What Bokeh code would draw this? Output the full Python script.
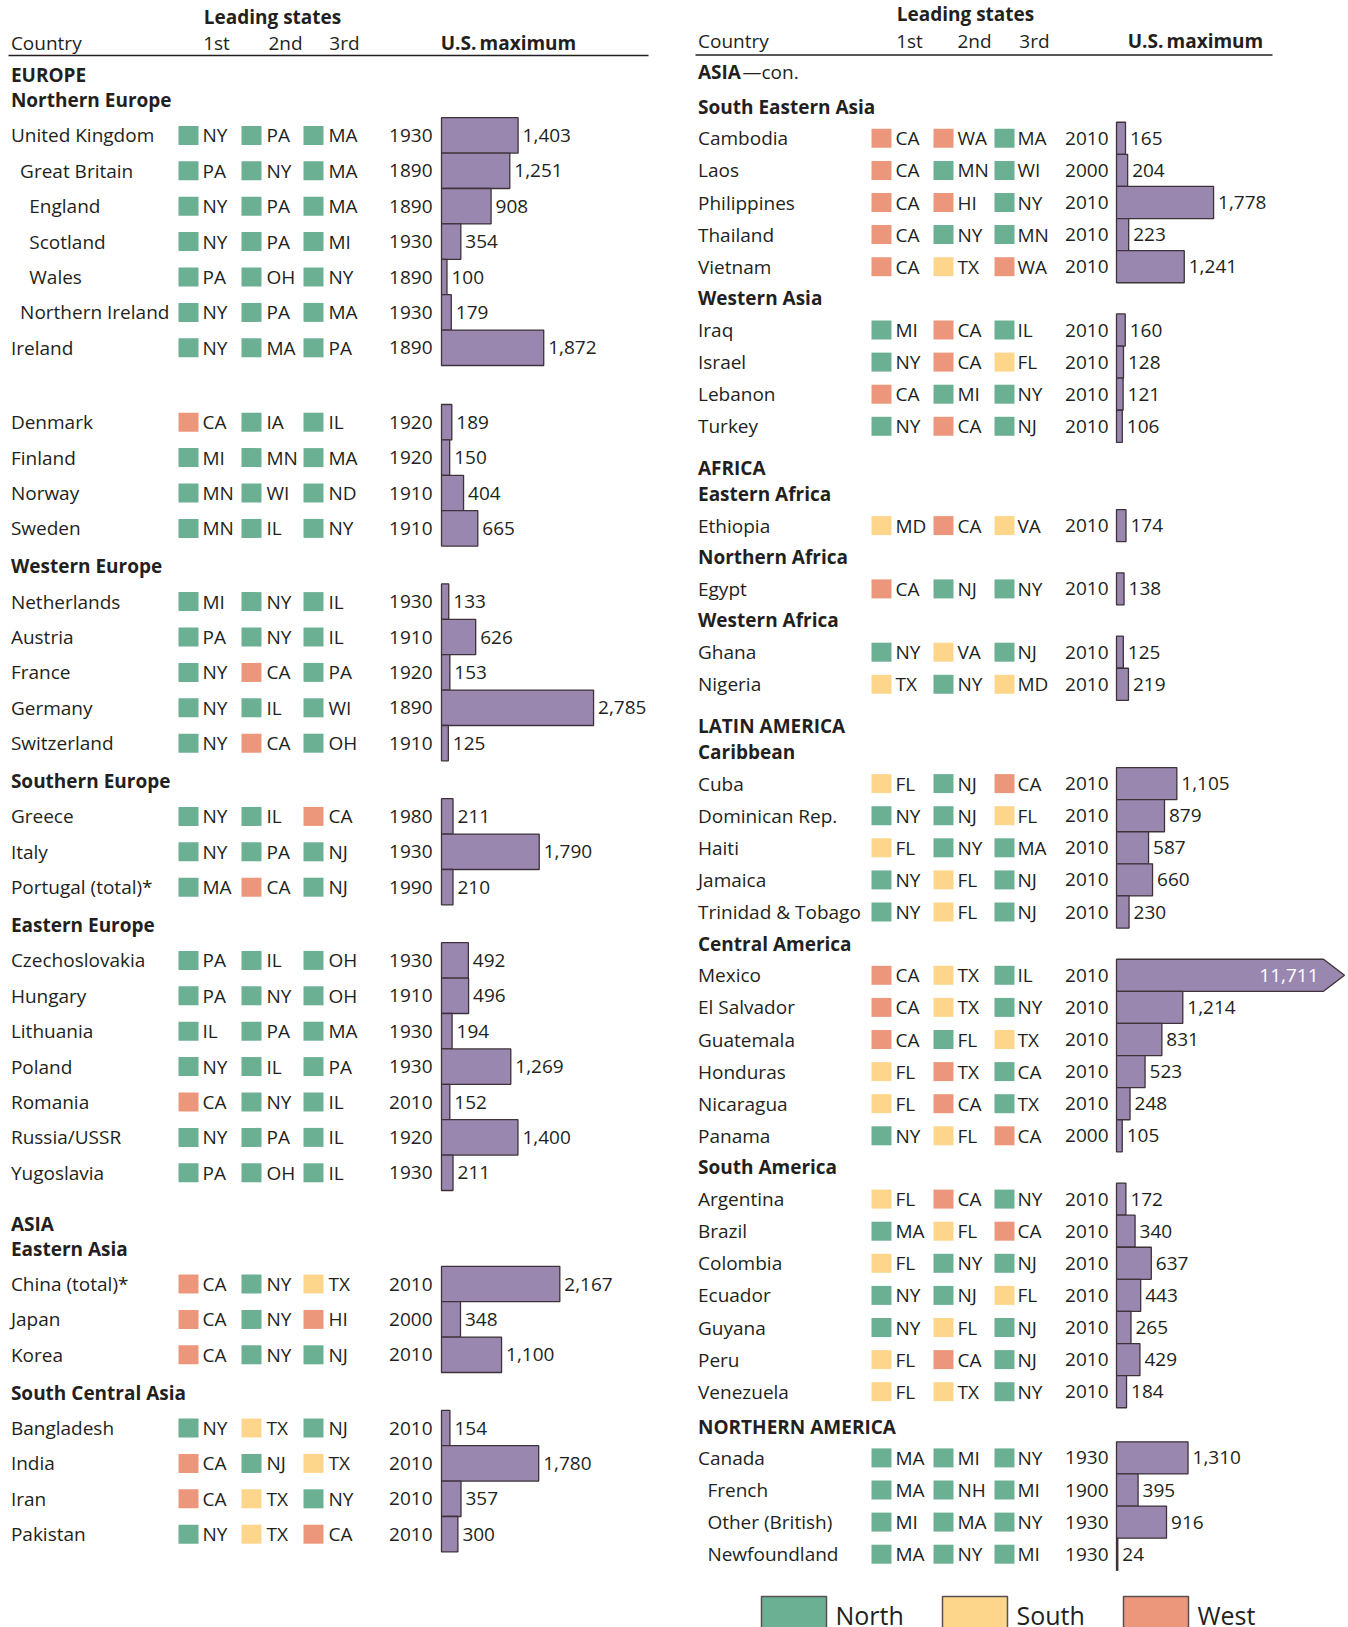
from bokeh.plotting import figure
from bokeh.models import Range1d
from bokeh.core.properties import value
from bokeh.embed import file_html
from bokeh.resources import INLINE

# ------------------------------------------------------------------ DATA
# Left column
left_countries = ["United Kingdom", "Great Britain", "England", "Scotland", "Wales",
                  "Northern Ireland", "Ireland",
                  "Denmark", "Finland", "Norway", "Sweden",
                  "Netherlands", "Austria", "France", "Germany", "Switzerland",
                  "Greece", "Italy", "Portugal (total)*",
                  "Czechoslovakia", "Hungary", "Lithuania", "Poland", "Romania",
                  "Russia/USSR", "Yugoslavia",
                  "China (total)*", "Japan", "Korea",
                  "Bangladesh", "India", "Iran", "Pakistan"]
left_level = [0, 1, 2, 2, 2, 1, 0,
              0, 0, 0, 0,
              0, 0, 0, 0, 0,
              0, 0, 0,
              0, 0, 0, 0, 0, 0, 0,
              0, 0, 0,
              0, 0, 0, 0]
left_states = [["NY", "PA", "MA"], ["PA", "NY", "MA"], ["NY", "PA", "MA"], ["NY", "PA", "MI"],
               ["PA", "OH", "NY"], ["NY", "PA", "MA"], ["NY", "MA", "PA"],
               ["CA", "IA", "IL"], ["MI", "MN", "MA"], ["MN", "WI", "ND"], ["MN", "IL", "NY"],
               ["MI", "NY", "IL"], ["PA", "NY", "IL"], ["NY", "CA", "PA"], ["NY", "IL", "WI"],
               ["NY", "CA", "OH"],
               ["NY", "IL", "CA"], ["NY", "PA", "NJ"], ["MA", "CA", "NJ"],
               ["PA", "IL", "OH"], ["PA", "NY", "OH"], ["IL", "PA", "MA"], ["NY", "IL", "PA"],
               ["CA", "NY", "IL"], ["NY", "PA", "IL"], ["PA", "OH", "IL"],
               ["CA", "NY", "TX"], ["CA", "NY", "HI"], ["CA", "NY", "NJ"],
               ["NY", "TX", "NJ"], ["CA", "NJ", "TX"], ["CA", "TX", "NY"], ["NY", "TX", "CA"]]
left_state_regions = [["N", "N", "N"], ["N", "N", "N"], ["N", "N", "N"], ["N", "N", "N"],
                      ["N", "N", "N"], ["N", "N", "N"], ["N", "N", "N"],
                      ["W", "N", "N"], ["N", "N", "N"], ["N", "N", "N"], ["N", "N", "N"],
                      ["N", "N", "N"], ["N", "N", "N"], ["N", "W", "N"], ["N", "N", "N"],
                      ["N", "W", "N"],
                      ["N", "N", "W"], ["N", "N", "N"], ["N", "W", "N"],
                      ["N", "N", "N"], ["N", "N", "N"], ["N", "N", "N"], ["N", "N", "N"],
                      ["W", "N", "N"], ["N", "N", "N"], ["N", "N", "N"],
                      ["W", "N", "S"], ["W", "N", "W"], ["W", "N", "N"],
                      ["N", "S", "N"], ["W", "N", "S"], ["W", "S", "N"], ["N", "S", "W"]]
left_years = [1930, 1890, 1890, 1930, 1890, 1930, 1890,
              1920, 1920, 1910, 1910,
              1930, 1910, 1920, 1890, 1910,
              1980, 1930, 1990,
              1930, 1910, 1930, 1930, 2010, 1920, 1930,
              2010, 2000, 2010,
              2010, 2010, 2010, 2010]
left_values = [1403, 1251, 908, 354, 100, 179, 1872,
               189, 150, 404, 665,
               133, 626, 153, 2785, 125,
               211, 1790, 210,
               492, 496, 194, 1269, 152, 1400, 211,
               2167, 348, 1100,
               154, 1780, 357, 300]
left_outline = [("R", "EUROPE"), ("S", "Northern Europe"), ("C", 7), ("G", ""), ("C", 4),
                ("S", "Western Europe"), ("C", 5), ("S", "Southern Europe"), ("C", 3),
                ("S", "Eastern Europe"), ("C", 7), ("G", ""), ("R", "ASIA"),
                ("S", "Eastern Asia"), ("C", 3), ("S", "South Central Asia"), ("C", 4)]

# Right column
right_countries = ["Cambodia", "Laos", "Philippines", "Thailand", "Vietnam",
                   "Iraq", "Israel", "Lebanon", "Turkey",
                   "Ethiopia", "Egypt", "Ghana", "Nigeria",
                   "Cuba", "Dominican Rep.", "Haiti", "Jamaica", "Trinidad & Tobago",
                   "Mexico", "El Salvador", "Guatemala", "Honduras", "Nicaragua", "Panama",
                   "Argentina", "Brazil", "Colombia", "Ecuador", "Guyana", "Peru", "Venezuela",
                   "Canada", "French", "Other (British)", "Newfoundland"]
right_level = [0] * 31 + [0, 1, 1, 1]
right_states = [["CA", "WA", "MA"], ["CA", "MN", "WI"], ["CA", "HI", "NY"], ["CA", "NY", "MN"],
                ["CA", "TX", "WA"],
                ["MI", "CA", "IL"], ["NY", "CA", "FL"], ["CA", "MI", "NY"], ["NY", "CA", "NJ"],
                ["MD", "CA", "VA"], ["CA", "NJ", "NY"], ["NY", "VA", "NJ"], ["TX", "NY", "MD"],
                ["FL", "NJ", "CA"], ["NY", "NJ", "FL"], ["FL", "NY", "MA"], ["NY", "FL", "NJ"],
                ["NY", "FL", "NJ"],
                ["CA", "TX", "IL"], ["CA", "TX", "NY"], ["CA", "FL", "TX"], ["FL", "TX", "CA"],
                ["FL", "CA", "TX"], ["NY", "FL", "CA"],
                ["FL", "CA", "NY"], ["MA", "FL", "CA"], ["FL", "NY", "NJ"], ["NY", "NJ", "FL"],
                ["NY", "FL", "NJ"], ["FL", "CA", "NJ"], ["FL", "TX", "NY"],
                ["MA", "MI", "NY"], ["MA", "NH", "MI"], ["MI", "MA", "NY"], ["MA", "NY", "MI"]]
right_state_regions = [["W", "W", "N"], ["W", "N", "N"], ["W", "W", "N"], ["W", "N", "N"],
                       ["W", "S", "W"],
                       ["N", "W", "N"], ["N", "W", "S"], ["W", "N", "N"], ["N", "W", "N"],
                       ["S", "W", "S"], ["W", "N", "N"], ["N", "S", "N"], ["S", "N", "S"],
                       ["S", "N", "W"], ["N", "N", "S"], ["S", "N", "N"], ["N", "S", "N"],
                       ["N", "S", "N"],
                       ["W", "S", "N"], ["W", "S", "N"], ["W", "N", "S"], ["S", "W", "N"],
                       ["S", "W", "N"], ["N", "S", "W"],
                       ["S", "W", "N"], ["N", "S", "W"], ["S", "N", "N"], ["N", "N", "S"],
                       ["N", "S", "N"], ["S", "W", "N"], ["S", "S", "N"],
                       ["N", "N", "N"], ["N", "N", "N"], ["N", "N", "N"], ["N", "N", "N"]]
right_years = [2010, 2000, 2010, 2010, 2010,
               2010, 2010, 2010, 2010,
               2010, 2010, 2010, 2010,
               2010, 2010, 2010, 2010, 2010,
               2010, 2010, 2010, 2010, 2010, 2000,
               2010, 2010, 2010, 2010, 2010, 2010, 2010,
               1930, 1900, 1930, 1930]
right_values = [165, 204, 1778, 223, 1241,
                160, 128, 121, 106,
                174, 138, 125, 219,
                1105, 879, 587, 660, 230,
                11711, 1214, 831, 523, 248, 105,
                172, 340, 637, 443, 265, 429, 184,
                1310, 395, 916, 24]
right_outline = [("RC", "ASIA"), ("S", "South Eastern Asia"), ("C", 5), ("S", "Western Asia"), ("C", 4),
                 ("R", "AFRICA"), ("S", "Eastern Africa"), ("C", 1), ("S", "Northern Africa"), ("C", 1),
                 ("S", "Western Africa"), ("C", 2),
                 ("R", "LATIN AMERICA"), ("S", "Caribbean"), ("C", 5), ("S", "Central America"), ("C", 6),
                 ("S", "South America"), ("C", 7), ("R1", "NORTHERN AMERICA"), ("C", 4)]

header_cols = ["1st", "2nd", "3rd"]
legend_keys = ["N", "S", "W"]
legend_labels = ["North", "South", "West"]

# ------------------------------------------------------------------ STYLE / LAYOUT
TXT = "#231f20"
FONT = "Open Sans"
FS = "19px"
REGION_COLORS = {"N": "#6cb094", "S": "#fdd68c", "W": "#ec977c"}
BAR_FILL = "#9a87b0"
BAR_LINE = "#3d3339"
PX_PER_UNIT = 0.0546
CAP_PX = 207
ARROW_PX = 21

W, H = 1348, 1627
p = figure(width=W, height=H, output_backend="svg", toolbar_location=None,
           x_range=Range1d(0, W), y_range=Range1d(H, 0),
           min_border=0, outline_line_color=None)
p.axis.visible = False
p.grid.visible = False
p.background_fill_color = "white"


def txt(x, y, t, size=FS, bold=False, align="left", color=TXT, baseline="middle"):
    p.text(x=x, y=y, text=t, text_font=value(FONT), text_font_size=value(size),
           text_font_style="bold" if bold else "normal", text_align=align,
           text_baseline=baseline, text_color=color)


def layout(outline, steps, y0):
    rows, heads = [], []
    prev, y = None, y0
    for kind, arg in outline:
        n = arg if kind == "C" else 1
        for _ in range(n):
            if prev is not None:
                y += steps[(prev, kind)]
            if kind == "C":
                rows.append(y)
            elif kind != "G":
                heads.append((kind, arg, y))
            prev = kind
    return rows, heads


def draw_column(countries, levels, states, sregions, years, values, outline, steps, y0, c):
    rows, heads = layout(outline, steps, y0)
    # headers
    for kind, label, y in heads:
        txt([c["cx"]], [y], [label], bold=True)
        if kind == "RC":
            txt([c["con_x"]], [y], ["\u2014con."])
    # country names
    txt([c["cx"] + lv * c["indent"] for lv in levels], rows, countries)
    # swatches + state codes
    for j in range(3):
        p.quad(left=[c["sw"][j]] * len(rows), right=[c["sw"][j] + 20] * len(rows),
               top=[y - 9.5 for y in rows], bottom=[y + 9.5 for y in rows],
               fill_color=[REGION_COLORS[r[j]] for r in sregions], line_color=None)
        txt([c["st"][j]] * len(rows), rows, [s[j] for s in states])
    # years
    txt([c["year_r"]] * len(rows), rows, [str(yv) for yv in years], align="right")
    # bars
    h = c["row_h"]
    x0 = c["bar0"]
    norm_l, norm_r, norm_y, norm_v = [], [], [], []
    for y, v in zip(rows, values):
        L = v * PX_PER_UNIT
        if L <= CAP_PX:
            norm_l.append(x0); norm_r.append(x0 + L); norm_y.append(y); norm_v.append(v)
        else:
            xc = x0 + CAP_PX
            p.patch(x=[x0, xc, xc + ARROW_PX, xc, x0], y=[y - h / 2, y - h / 2, y, y + h / 2, y + h / 2],
                    fill_color=BAR_FILL, line_color=BAR_LINE, line_width=1.3)
            txt([xc - 5], [y], [f"{v:,}"], align="right", color="white")
    p.quad(left=norm_l, right=norm_r, top=[y - h / 2 for y in norm_y],
           bottom=[y + h / 2 for y in norm_y], fill_color=BAR_FILL, line_color=BAR_LINE,
           line_width=1.3)
    txt([r + 4.5 for r in norm_r], norm_y, [f"{v:,}" for v in norm_v])
    # column header
    txt([c["lead_x"]], [c["lead_y"]], ["Leading states"], bold=True, align="center")
    txt([c["cx"]], [c["hdr_y"]], ["Country"])
    for j, lab in enumerate(header_cols):
        txt([c["hx"][j]], [c["hdr_y"]], [lab], align="center")
    txt([c["max_x"]], [c["hdr_y"]], ["U.S.\u2009maximum"], bold=True, align="center")
    p.segment(x0=[c["line"][0]], x1=[c["line"][1]], y0=[c["line_y"]], y1=[c["line_y"]],
              line_color=TXT, line_width=1.3)


left_steps = {("R", "S"): 25, ("S", "C"): 35.2, ("C", "C"): 35.4, ("C", "S"): 38,
              ("C", "G"): 37, ("G", "C"): 37.4, ("G", "R"): 14}
right_steps = {("RC", "S"): 35, ("S", "C"): 31.8, ("C", "C"): 32.1, ("C", "S"): 31.5,
               ("C", "R"): 42, ("R", "S"): 25.5, ("C", "R1"): 35, ("R1", "C"): 31.2}

left_cfg = dict(cx=10.4, indent=9.2, sw=[178, 241, 303], st=[202, 266, 328], year_r=432,
                bar0=441, row_h=35.4, lead_x=272, lead_y=16, hdr_y=42.5, hx=[216, 285, 344],
                max_x=508, line=(8, 648), line_y=55)
right_cfg = dict(cx=697.5, indent=9.4, sw=[871, 933, 994], st=[895, 957, 1017], year_r=1108,
                 bar0=1116, row_h=32.1, lead_x=965, lead_y=13.5, hdr_y=40, hx=[909, 974, 1034],
                 max_x=1195, line=(695, 1272), line_y=54.5, con_x=742)

draw_column(left_countries, left_level, left_states, left_state_regions, left_years, left_values,
            left_outline, left_steps, 74.7, left_cfg)
draw_column(right_countries, right_level, right_states, right_state_regions, right_years, right_values,
            right_outline, right_steps, 71, right_cfg)

# legend
leg_x = [761, 942, 1123]
for k, lab, lx in zip(legend_keys, legend_labels, leg_x):
    p.quad(left=[lx], right=[lx + 65], top=[1596], bottom=[1680], fill_color=REGION_COLORS[k],
           line_color="#5a4f4f", line_width=1.5)
    txt([lx + 74], [1614], [lab], size="25px")

open("out.html", "w").write(file_html(p, INLINE))
